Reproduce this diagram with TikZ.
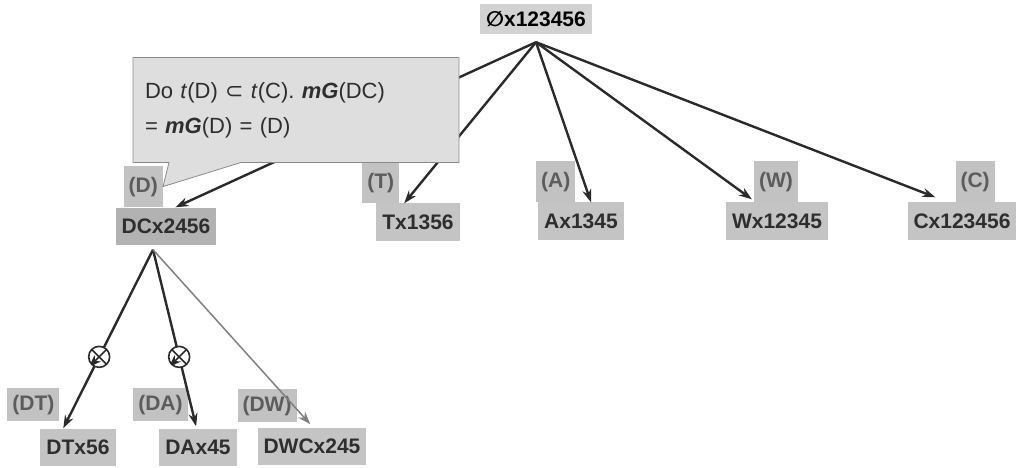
\documentclass[tikz,border=0pt]{standalone}
\usepackage{fontspec}
\setmainfont{Liberation Sans}
\newfontfamily\symfont{DejaVu Sans}
\usetikzlibrary{arrows.meta,shapes.callouts}

\definecolor{nodefill}{HTML}{C4C4C4}
\definecolor{dcfill}{HTML}{B2B2B2}
\definecolor{rootfill}{HTML}{D2D2D2}
\definecolor{tagfill}{HTML}{C2C2C2}
\definecolor{notefill}{HTML}{DEDEDE}
\definecolor{notedraw}{HTML}{8A8A8A}
\definecolor{nodetext}{HTML}{2E2E2E}
\definecolor{tagtext}{HTML}{5C5C5C}
\definecolor{edgecol}{HTML}{2A2A2A}

\begin{document}
\begin{tikzpicture}[x=1pt,y=-1pt,
  every node/.style={font=\fontsize{21}{25}\selectfont\bfseries},
  box/.style={fill=nodefill, text=nodetext, inner xsep=6pt, minimum height=37pt},
  tag/.style={fill=tagfill, text=tagtext, inner xsep=5pt, minimum height=41pt, anchor=south west},
  edge/.style={-{Stealth[length=13pt,width=9pt]}, line width=2.4pt, draw=edgecol},
  xmark/.style={circle, draw=edgecol, line width=1.6pt, fill=white, minimum size=21pt, inner sep=0pt,
    path picture={\draw[line width=1.6pt, edgecol] (path picture bounding box.north west) -- (path picture bounding box.south east)
      (path picture bounding box.north east) -- (path picture bounding box.south west);}},
  note/.style={rectangle callout, fill=notefill, draw=notedraw, line width=0.8pt, text=nodetext,
    font=\fontsize{22}{35}\selectfont, text width=302pt, inner xsep=12pt, minimum height=105pt, align=left}
]
\useasboundingbox (0,0) rectangle (1018,468);

% top level
\node[box, fill=rootfill, text=black, minimum height=30pt] (root) at (536,19) {{\symfont ∅}x123456};
\node[box, fill=dcfill] (DC) at (166,226) {DCx2456};
\node[box] (T) at (418,222) {Tx1356};
\node[box] (A) at (581,221) {Ax1345};
\node[box] (W) at (777,221) {Wx12345};
\node[box] (C) at (962,221) {Cx123456};

% second level
\node[box] (DT) at (78,447) {DTx56};
\node[box] (DA) at (198,447) {DAx45};
\node[box] (DWC) at (312,446) {DWCx245};

% item tags
\node[tag] (lD) at ([xshift=8pt]DC.north west) {(D)};
\node[tag] (lT) at ([xshift=-14pt]T.north west) {(T)};
\node[tag] (lA) at ([xshift=-2pt]A.north west) {(A)};
\node[tag] (lW) at ([xshift=28pt]W.north west) {(W)};
\node[tag] (lC) at ([xshift=48pt]C.north west) {(C)};
\node[tag, minimum height=33pt] (lDT) at ([xshift=-33pt,yshift=7pt]DT.north west) {(DT)};
\node[tag, minimum height=33pt] (lDA) at ([xshift=-26pt,yshift=7pt]DA.north west) {(DA)};
\node[tag, minimum height=33pt] (lDW) at ([xshift=-20pt,yshift=5pt]DWC.north west) {(DW)};

\coordinate (hub) at ([yshift=-8pt]root.south);
\coordinate (hubD) at ([xshift=-13pt,yshift=-5pt]DC.south);

\draw[edge] (hub) -- ([xshift=60pt]DC.north west);
\draw[edge] (hub) -- ([xshift=28pt]T.north west);
\draw[edge] (hub) -- ([xshift=53pt]A.north west);
\draw[edge] (hub) -- ([xshift=26pt,yshift=3pt]W.north west);
\draw[edge] (hub) -- ([xshift=28pt,yshift=5pt]C.north west);

\draw[edge] (hubD) -- node[xmark, pos=0.6] (xT) {} ([xshift=23pt]DT.north west);
\draw[edge] (hubD) -- node[xmark, pos=0.607] (xA) {} ([xshift=37pt,yshift=2pt]DA.north west);
\draw[edge, line width=1.5pt, draw=gray] (hubD) -- ([xshift=53pt,yshift=3pt]DWC.north west);

% note over the edges
\node[note, callout absolute pointer={(lD.east)}, callout pointer width=72pt] (note) at (296,110)
  {Do \textit{t}(D) {\symfont ⊂} \textit{t}(C). \textbf{\textit{mG}}(DC)\\= \textbf{\textit{mG}}(D) = (D)\\[-6pt]};
\end{tikzpicture}
\end{document}
